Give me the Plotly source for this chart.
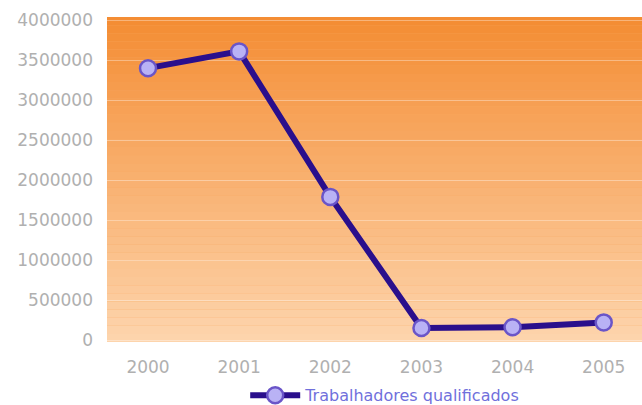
import plotly.graph_objects as go

years = ["2000", "2001", "2002", "2003", "2004", "2005"]
values = [3400000, 3610000, 1790000, 150000, 160000, 220000]
series_name = "Trabalhadores qualificados"
y_ticks = [0, 500000, 1000000, 1500000, 2000000, 2500000, 3000000, 3500000, 4000000]

fig = go.Figure()
fig.add_trace(go.Scatter(
    x=years, y=values, name=series_name, mode="lines+markers",
    line=dict(color="#2a0f8c", width=6),
    marker=dict(symbol="circle", size=16, color="#b9b2f5",
                line=dict(color="#6a55c8", width=2.5)),
))

# gradient background bands
n = 40
top = (244, 141, 52)
bot = (253, 212, 172)
shapes = []
for i in range(n):
    t = i / (n - 1)
    c = tuple(int(round(top[k] + (bot[k] - top[k]) * t)) for k in range(3))
    shapes.append(dict(type="rect", xref="paper", yref="paper",
                       x0=0, x1=1, y0=1 - (i + 1) / n, y1=1 - i / n,
                       fillcolor="rgb(%d,%d,%d)" % c, line=dict(width=0),
                       layer="below"))

tick_font = dict(family="DejaVu Sans", size=17, color="#b0b0b0")

fig.update_layout(
    width=642, height=405,
    margin=dict(l=107, r=0, t=17, b=63),
    paper_bgcolor="white", plot_bgcolor="#f8a860",
    shapes=shapes,
    showlegend=True,
    legend=dict(orientation="h", x=0.52, xanchor="center",
                yref="container", y=0.024, yanchor="middle",
                font=dict(family="DejaVu Sans", size=16, color="#7070dc"),
                itemwidth=50),
    xaxis=dict(type="category", range=[-0.45, 5.42], showgrid=False,
               ticks="", ticklabelstandoff=13, tickfont=tick_font,
               showline=False, zeroline=False),
    yaxis=dict(range=[-25000, 4040000], tickvals=y_ticks,
               ticktext=[str(v) for v in y_ticks],
               ticks="", ticklabelstandoff=13,
               showgrid=True, gridcolor="rgba(255,255,255,0.35)", gridwidth=1,
               zeroline=False, showline=False,
               tickfont=tick_font),
)

fig.write_html("out.html")
